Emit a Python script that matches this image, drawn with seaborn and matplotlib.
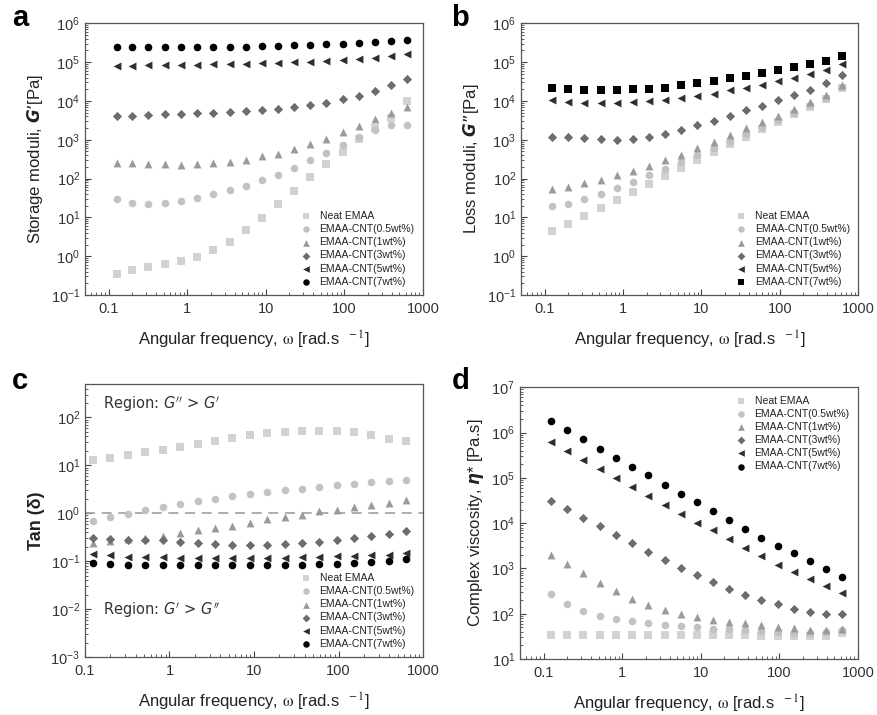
import numpy as np
import pandas as pd
import matplotlib
matplotlib.use("Agg")
import matplotlib.pyplot as plt
import matplotlib.ticker as mticker
import seaborn as sns

# --------------------------
# DATA
# --------------------------
freq = [0.126, 0.2, 0.32, 0.52, 0.84, 1.34, 2.15, 3.46, 5.55, 8.9,
        14.3, 23, 37, 59, 95, 153, 245, 393, 628]

samples = ["Neat EMAA", "EMAA-CNT(0.5wt%)", "EMAA-CNT(1wt%)",
           "EMAA-CNT(3wt%)", "EMAA-CNT(5wt%)", "EMAA-CNT(7wt%)"]

# storage modulus G' [Pa]
g1_neat = [0.34, 0.435, 0.53, 0.62, 0.77, 0.98, 1.43, 2.34, 4.6, 9.8,
           22.7, 49, 111, 235, 490, 1016, 2040, 3670, 10000]
g1_05 = [29, 23.6, 22.7, 23.6, 26.5, 31.7, 39.5, 51, 65, 91,
         127, 188, 297, 458, 750, 1180, 1830, 2410, 2350]
g1_1 = [245, 245, 240, 235, 230, 235, 250, 270, 300, 372,
        435, 575, 760, 1060, 1550, 2300, 3480, 4860, 6800]
g1_3 = [4100, 4200, 4400, 4500, 4700, 4800, 5000, 5200, 5400, 5900,
        6300, 7000, 7900, 9100, 11000, 13500, 18500, 25000, 36000]
g1_5 = [80000, 81000, 82000, 83000, 84000, 85000, 87000, 89000, 91000, 93000,
        96000, 99000, 103000, 108000, 113000, 120000, 130000, 143000, 160000]
g1_7 = [240000, 240000, 240000, 240000, 240000, 240000, 245000, 250000, 250000, 255000,
        260000, 270000, 280000, 290000, 300000, 310000, 330000, 350000, 380000]

# loss modulus G'' [Pa]
g2_neat = [4.45, 6.7, 10.8, 17.7, 28, 44, 74, 118, 190, 306,
           490, 780, 1200, 1930, 2920, 4500, 7100, 11400, 22000]
g2_05 = [19.7, 22.7, 29, 40, 57.5, 84, 124, 181, 268, 415,
         630, 940, 1390, 2140, 3300, 4900, 7740, 12000, 23000]
g2_1 = [53, 62, 76, 92, 120, 158, 216, 297, 415, 616,
        880, 1310, 1950, 2890, 4120, 6110, 9450, 14300, 25400]
g2_3 = [1150, 1150, 1130, 1060, 1000, 1060, 1170, 1430, 1775, 2340,
        3090, 4150, 5820, 7520, 10300, 14100, 19000, 29500, 47000]
g2_5 = [10800, 9400, 9100, 8700, 8900, 9200, 10000, 10800, 12200, 13700,
        15500, 18800, 22000, 26000, 32000, 40000, 49000, 63000, 89600]
g2_7 = [21000, 19800, 19000, 19000, 19000, 19800, 20500, 22000, 25000, 29000,
        33000, 39000, 44000, 54000, 63000, 74000, 90000, 110000, 148000]

# tan(delta)
tan_neat = [12.7, 14, 16.2, 18.7, 21.3, 24.3, 28.5, 32.4, 38, 42.6,
            46.9, 50, 51.7, 52.5, 51.7, 48.4, 42.6, 35.7, 31.8]
tan_05 = [0.68, 0.82, 0.97, 1.16, 1.34, 1.55, 1.79, 2.0, 2.24, 2.46,
          2.8, 2.99, 3.24, 3.57, 3.8, 4.1, 4.4, 4.6, 4.9]
tan_1 = [0.24, 0.26, 0.29, 0.31, 0.34, 0.39, 0.44, 0.50, 0.55, 0.63,
         0.75, 0.84, 0.94, 1.1, 1.17, 1.34, 1.52, 1.65, 1.85]
tan_3 = [0.30, 0.29, 0.28, 0.276, 0.27, 0.25, 0.235, 0.227, 0.213, 0.213,
         0.22, 0.227, 0.24, 0.255, 0.28, 0.31, 0.34, 0.375, 0.42]
tan_5 = [0.14, 0.135, 0.125, 0.12, 0.12, 0.117, 0.116, 0.115, 0.115, 0.115,
         0.116, 0.118, 0.12, 0.123, 0.126, 0.13, 0.133, 0.137, 0.145]
tan_7 = [0.091, 0.088, 0.085, 0.085, 0.084, 0.084, 0.082, 0.082, 0.082, 0.082,
         0.084, 0.084, 0.085, 0.087, 0.089, 0.092, 0.097, 0.1, 0.11]

# complex viscosity eta* [Pa.s]
eta_neat = [34, 34, 34, 34, 34, 34, 34, 34, 34, 34,
            34, 34, 33.5, 33, 32.5, 32, 32, 32.5, 38]
eta_05 = [276, 163, 113, 89, 76, 68, 61, 57, 53.5, 50,
          46.7, 45, 43, 40.8, 39.4, 38, 37.5, 39.4, 44]
eta_1 = [1970, 1250, 775, 474, 316, 214, 155, 118, 98, 83,
         72, 67, 61, 56, 52, 49, 44, 43, 47]
eta_3 = [31600, 20700, 13300, 8700, 5600, 3560, 2290, 1530, 1030, 700,
         492, 343, 263, 197, 161, 129, 109, 100, 98]
eta_5 = [610000, 390000, 250000, 158000, 98000, 62000, 39000, 25000, 15800, 10200,
         6900, 4400, 2800, 1870, 1220, 830, 572, 406, 286]
eta_7 = [1780000, 1130000, 710000, 440000, 280000, 178000, 113000, 71000, 45000, 28600,
         18400, 11600, 7500, 4800, 3200, 2140, 1430, 966, 663]

colors = ["#d2d2d2", "#c2c2c2", "#9a9a9a", "#6c6c6c", "#2e2e2e", "#000000"]
markers = ["s", "o", "^", "D", "<", "o"]
sizes = [26, 30, 32, 22, 32, 30]

# --------------------------
# STYLE
# --------------------------
sns.set_theme(style="ticks")
plt.rcParams['font.family'] = ['Liberation Sans', 'DejaVu Sans']
plt.rcParams['text.color'] = '#222222'
plt.rcParams['axes.labelcolor'] = '#222222'
plt.rcParams['xtick.color'] = '#444444'
plt.rcParams['ytick.color'] = '#444444'
plt.rcParams['xtick.labelcolor'] = '#333333'
plt.rcParams['ytick.labelcolor'] = '#333333'
plt.rcParams['axes.edgecolor'] = '#555555'


def style_axis(ax, xlim, ylim, yticks):
    ax.set_xscale('log')
    ax.set_yscale('log')
    ax.set_xlim(*xlim)
    ax.set_ylim(*ylim)
    ax.set_xticks([0.1, 1, 10, 100, 1000])
    ax.set_xticklabels(['0.1', '1', '10', '100', '1000'])
    ax.xaxis.set_minor_locator(mticker.LogLocator(base=10, subs=np.arange(2, 10), numticks=20))
    ax.xaxis.set_minor_formatter(mticker.NullFormatter())
    ax.set_yticks(yticks)
    ax.yaxis.set_major_formatter(mticker.LogFormatterSciNotation())
    ax.yaxis.set_minor_locator(mticker.LogLocator(base=10, subs=np.arange(2, 10), numticks=20))
    ax.yaxis.set_minor_formatter(mticker.NullFormatter())
    ax.tick_params(which='both', direction='in', top=False, right=False, labelsize=10.5)
    ax.tick_params(which='major', length=4, width=0.8)
    ax.tick_params(which='minor', length=2, width=0.6)
    ax.tick_params(axis='x', pad=5)
    for sp in ax.spines.values():
        sp.set_linewidth(0.9)
    ax.set_xlabel(r"Angular frequency, $\mathrm{\omega}$ [rad.s $^{\ -1}$]", fontsize=12,
                  labelpad=9, math_fontfamily='stix')


def draw_series(ax, series, mk, legend_loc):
    for i, vals in enumerate(series):
        sns.scatterplot(x=freq, y=vals, ax=ax, marker=mk[i], color=colors[i],
                        s=sizes[i], linewidth=0, label=samples[i], zorder=3 + i * 0.1)
    ax.legend(loc=legend_loc, frameon=False, fontsize=7.5, handletextpad=0.3,
              labelspacing=0.3, borderaxespad=0.4, markerscale=0.85)


fig = plt.figure(figsize=(8.78, 7.15), dpi=100)
ax_a = fig.add_axes([0.0968, 0.5874, 0.385, 0.380])
ax_b = fig.add_axes([0.5934, 0.5874, 0.384, 0.380])
ax_c = fig.add_axes([0.0968, 0.0811, 0.385, 0.382])
ax_d = fig.add_axes([0.5922, 0.0783, 0.385, 0.380])

# --- a: storage modulus ---
draw_series(ax_a, [g1_neat, g1_05, g1_1, g1_3, g1_5, g1_7], markers, 'lower right')
style_axis(ax_a, (0.05, 1000), (0.1, 1e6), [10.0 ** k for k in range(-1, 7)])
ax_a.set_ylabel("Storage moduli, $\\mathbfit{G}\\mathbf{\u2019}$[Pa]", fontsize=12,
                math_fontfamily='dejavusans')

# --- b: loss modulus ---
markers_b = ["s", "o", "^", "D", "<", "s"]
draw_series(ax_b, [g2_neat, g2_05, g2_1, g2_3, g2_5, g2_7], markers_b, 'lower right')
style_axis(ax_b, (0.05, 1000), (0.1, 1e6), [10.0 ** k for k in range(-1, 7)])
ax_b.set_ylabel("Loss moduli, $\\mathbfit{G}\\mathbf{\u201d}$[Pa]", fontsize=12,
                math_fontfamily='dejavusans')

# --- c: tan delta ---
draw_series(ax_c, [tan_neat, tan_05, tan_1, tan_3, tan_5, tan_7], markers, 'lower right')
style_axis(ax_c, (0.1, 1000), (1e-3, 5e2), [10.0 ** k for k in range(-3, 3)])
ax_c.axhline(1.0, color='#a0a0a0', linestyle=(0, (6, 4)), linewidth=1.2, zorder=2)
ax_c.set_ylabel("Tan (δ)", fontsize=13, fontweight='bold')
ax_c.text(0.165, 190, r"Region: $G''$ > $G'$", fontsize=10.5, va='center', ha='left',
          family='DejaVu Sans', color='#333333', math_fontfamily='dejavusans')
ax_c.text(0.165, 0.0095, r"Region: $G'$ > $G''$", fontsize=10.5, va='center', ha='left',
          family='DejaVu Sans', color='#333333', math_fontfamily='dejavusans')

# --- d: complex viscosity ---
draw_series(ax_d, [eta_neat, eta_05, eta_1, eta_3, eta_5, eta_7], markers, 'upper right')
style_axis(ax_d, (0.05, 1000), (10, 1e7), [10.0 ** k for k in range(1, 8)])
ax_d.set_ylabel(r"Complex viscosity, $\mathbfit{\eta}$* [Pa.s]", fontsize=12,
                math_fontfamily='dejavusans')

# panel letters
for lbl, (x, y) in zip("abcd", [(0.014, 0.975), (0.514, 0.975), (0.014, 0.467), (0.514, 0.467)]):
    fig.text(x, y, lbl, fontsize=21, fontweight='bold', color='black', va='center')

fig.savefig("out.png", dpi=100)
